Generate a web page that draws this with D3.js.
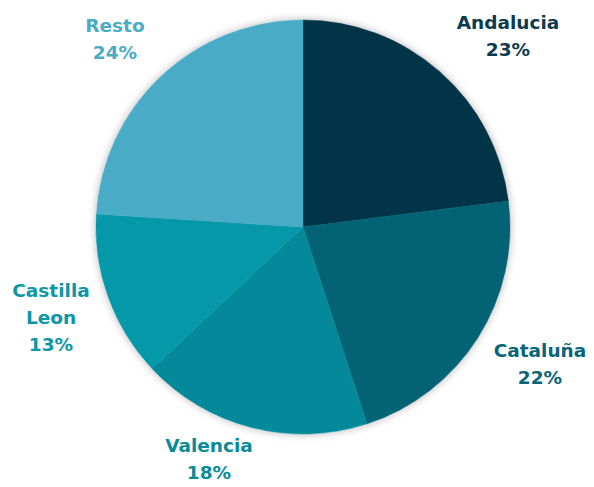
<!DOCTYPE html>
<html><head><meta charset="utf-8">
<script src="https://cdn.jsdelivr.net/npm/d3@7"></script>
<style>html,body{margin:0;padding:0;background:#fff;}svg{display:block;}</style>
</head><body>
<script>
const categories = ["Andalucia", "Cataluña", "Valencia", "Castilla Leon", "Resto"];
const values = [23, 22, 18, 13, 24];
const colors = ["#013447", "#036375", "#04899a", "#0598a8", "#4aabc6"];
const labelColors = ["#0d3a4f", "#076577", "#0b8a99", "#0e96a6", "#4bacc6"];
const labelLines = [["Andalucia","23%"],["Cataluña","22%"],["Valencia","18%"],["Castilla","Leon","13%"],["Resto","24%"]];
const labelPos = [[508,29],[540,357],[209,452],[51,297],[115,32]];

const W = 594, H = 487;
const svg = d3.select("body").append("svg").attr("width", W).attr("height", H);
const defs = svg.append("defs");
const f = defs.append("filter").attr("id","sh").attr("x","-20%").attr("y","-20%").attr("width","140%").attr("height","140%");
f.append("feDropShadow").attr("dx",0).attr("dy",0).attr("stdDeviation",4).attr("flood-color","#000").attr("flood-opacity",0.3);

const cx = 303, cy = 227, R = 207;
const pie = d3.pie().sort(null).value(d => d)(values);
const arc = d3.arc().innerRadius(0).outerRadius(R);
const g = svg.append("g").attr("transform", `translate(${cx},${cy})`);
g.append("circle").attr("r", R).attr("fill","#fff").attr("filter","url(#sh)");
g.selectAll("path").data(pie).join("path")
  .attr("d", arc).attr("fill", (d,i) => colors[i])
  .attr("stroke", (d,i) => colors[i]).attr("stroke-width", 0.5);

labelLines.forEach((lines, i) => {
  const t = svg.append("text").attr("x", labelPos[i][0]).attr("y", labelPos[i][1])
    .attr("text-anchor","middle").attr("fill", labelColors[i])
    .attr("font-family","'DejaVu Sans', sans-serif").attr("font-weight","bold").attr("font-size","18.5px");
  lines.forEach((l, j) => t.append("tspan").attr("x", labelPos[i][0]).attr("dy", j === 0 ? 0 : 27).text(l));
});
</script>
</body></html>
